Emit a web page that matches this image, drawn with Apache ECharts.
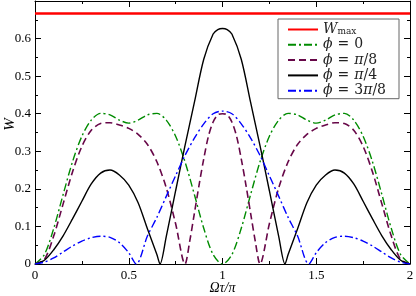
<!DOCTYPE html>
<html><head><meta charset="utf-8">
<script src="https://cdn.jsdelivr.net/npm/echarts@6/dist/echarts.min.js"></script>
<style>html,body{margin:0;padding:0;background:#fff}#c{width:416px;height:296px}</style>
</head><body><div id="c"></div>
<script>
// Data
const seriesNames = ['Wmax', 'phi0', 'phi8', 'phi4', 'phi38'];
const xTickLabels = ['0', '0.5', '1', '1.5', '2'];
const yTickLabels = ['0', '0.1', '0.2', '0.3', '0.4', '0.5', '0.6'];

const xWmax = [0, 2];
const yWmax = [0.6667, 0.6667];

const xPhi0 = [0,0.05,0.1,0.15,0.2,0.25,0.3,0.35,0.4,0.45,0.5,0.55,0.6,0.65,0.7,0.75,0.8,0.85,0.9,0.95,1.0,
  1.05,1.1,1.15,1.2,1.25,1.3,1.35,1.4,1.45,1.5,1.55,1.6,1.65,1.7,1.75,1.8,1.85,1.9,1.95,2.0];
const yPhi0 = [0,0.025,0.095,0.185,0.272,0.34,0.383,0.401,0.397,0.383,0.375,0.383,0.397,0.401,0.383,0.34,0.272,0.185,0.095,0.025,0,
  0.025,0.095,0.185,0.272,0.34,0.383,0.401,0.397,0.383,0.375,0.383,0.397,0.401,0.383,0.34,0.272,0.185,0.095,0.025,0];

const xPhi8 = [0,0.05,0.1,0.15,0.2,0.25,0.3,0.35,0.4,0.45,0.5,0.55,0.6,0.65,0.7,0.75,0.8,0.825,0.85,0.875,0.9,0.925,0.95,0.975,1.0,
  1.025,1.05,1.075,1.1,1.125,1.15,1.175,1.2,1.25,1.3,1.35,1.4,1.45,1.5,1.55,1.6,1.65,1.7,1.75,1.8,1.85,1.9,1.95,2.0];
const yPhi8 = [0,0.012,0.075,0.16,0.245,0.313,0.356,0.374,0.376,0.37,0.361,0.345,0.318,0.272,0.203,0.107,0,0.06,0.135,0.21,0.28,0.34,0.378,0.397,0.40,
  0.397,0.378,0.34,0.28,0.21,0.135,0.06,0,0.107,0.203,0.272,0.318,0.345,0.361,0.37,0.376,0.374,0.356,0.313,0.245,0.16,0.075,0.012,0];

const xPhi4 = [0,0.05,0.1,0.15,0.2,0.25,0.3,0.35,0.4,0.45,0.5,0.55,0.6,0.65,0.6667,0.7,0.75,0.8,0.85,0.9,0.95,0.975,1.0,
  1.025,1.05,1.1,1.15,1.2,1.25,1.3,1.3333,1.35,1.4,1.45,1.5,1.55,1.6,1.65,1.7,1.75,1.8,1.85,1.9,1.95,2.0];
const yPhi4 = [0,0.01,0.038,0.075,0.12,0.167,0.213,0.242,0.25,0.237,0.21,0.163,0.093,0.025,0,0.073,0.195,0.315,0.43,0.545,0.612,0.624,0.627,
  0.624,0.612,0.545,0.43,0.315,0.195,0.073,0,0.025,0.093,0.163,0.21,0.237,0.25,0.242,0.213,0.167,0.12,0.075,0.038,0.01,0];

const xPhi38 = [0,0.05,0.1,0.15,0.2,0.25,0.3,0.35,0.4,0.45,0.5,0.54,0.6,0.65,0.7,0.75,0.8,0.85,0.9,0.95,1.0,
  1.05,1.1,1.15,1.2,1.25,1.3,1.35,1.4,1.46,1.5,1.55,1.6,1.65,1.7,1.75,1.8,1.85,1.9,1.95,2.0];
const yPhi38 = [0,0.005,0.016,0.032,0.048,0.061,0.07,0.074,0.071,0.057,0.03,0,0.075,0.124,0.18,0.235,0.289,0.335,0.373,0.4,0.407,
  0.4,0.373,0.335,0.289,0.235,0.18,0.124,0.075,0,0.03,0.057,0.071,0.074,0.07,0.061,0.048,0.032,0.016,0.005,0];

const legendLabels = {
  Wmax: '{it|W}{sub|max}',
  phi0: '{it|ϕ} = 0',
  phi8: '{it|ϕ} = {it|π}/8',
  phi4: '{it|ϕ} = {it|π}/4',
  phi38: '{it|ϕ} = 3{it|π}/8'
};

function pairs(xs, ys) { return xs.map((x, i) => [x, ys[i]]); }

const SERIF = 'Liberation Serif';
const LSERIF = 'DejaVu Serif';
const chart = echarts.init(document.getElementById('c'), null, {renderer: 'canvas'});

const tickCommon = {
  axisLine: {show: true, onZero: false, lineStyle: {color: '#000', width: 1}},
  axisTick: {show: true, inside: true, length: 6, lineStyle: {color: '#000'}},
  minorTick: {show: true, splitNumber: 2, length: 3, lineStyle: {color: '#000'}},
  splitLine: {show: false},
  minorSplitLine: {show: false}
};

function lineSeries(name, xs, ys, color, width, type) {
  return {
    name: name, type: 'line', showSymbol: false, symbol: 'none',
    smooth: 0.3, data: pairs(xs, ys), xAxisIndex: 0, yAxisIndex: 0,
    lineStyle: {color: color, width: width, type: type},
    itemStyle: {color: color},
    animation: false, z: 3
  };
}

chart.setOption({
  animation: false,
  grid: {left: 35, right: 6, top: 1, bottom: 32, containLabel: false, outerBoundsMode: 'none'},
  xAxis: [
    Object.assign({
      type: 'value', min: 0, max: 2, interval: 0.5, position: 'bottom',
      name: 'Ωτ/π', nameLocation: 'middle', nameGap: 17, nameMoveOverlap: false,
      nameTextStyle: {fontFamily: SERIF, fontStyle: 'italic', fontSize: 14, color: '#000'},
      axisLabel: {fontFamily: SERIF, fontSize: 13, color: '#000', margin: 5,
        formatter: function (v) { return xTickLabels[Math.round(v / 0.5)]; }}
    }, tickCommon),
    Object.assign({
      type: 'value', min: 0, max: 2, interval: 0.5, position: 'top',
      axisLabel: {show: false}
    }, tickCommon)
  ],
  yAxis: [
    Object.assign({
      type: 'value', min: 0, max: 0.7, interval: 0.1, position: 'left',
      name: 'W', nameLocation: 'middle', nameGap: 17, nameRotate: 90, nameMoveOverlap: false,
      nameTextStyle: {fontFamily: SERIF, fontStyle: 'italic', fontSize: 15, color: '#000', padding: [0, 0, 0, 16]},
      axisLabel: {fontFamily: SERIF, fontSize: 13, color: '#000', margin: 4, showMaxLabel: false,
        formatter: function (v) { const i = Math.round(v / 0.1); return yTickLabels[i] || ''; }}
    }, tickCommon),
    Object.assign({
      type: 'value', min: 0, max: 0.7, interval: 0.1, position: 'right',
      axisLabel: {show: false}
    }, tickCommon)
  ],
  legend: {
    orient: 'vertical', left: 278, top: 19,
    data: seriesNames,
    backgroundColor: '#fff', borderColor: '#666', borderWidth: 1, borderRadius: 0,
    padding: [3, 13, 1, 9],
    itemWidth: 30, itemHeight: 13, itemGap: 1.3, itemTextGap: 12,
    itemStyle: {opacity: 0},
    textStyle: {fontFamily: LSERIF, fontSize: 14, color: '#222', lineHeight: 13,
      rich: {
        it: {fontFamily: LSERIF, fontStyle: 'italic', fontSize: 14, color: '#222', lineHeight: 13},
        sp: {fontSize: 14, width: 5, lineHeight: 13},
        sub: {fontFamily: LSERIF, fontSize: 9, color: '#222', verticalAlign: 'bottom', lineHeight: 13, padding: [5, 0, 0, 0]}
      }},
    formatter: function (name) { return legendLabels[name].replace(' = ', '{sp| }={sp| }'); }
  },
  series: [
    lineSeries('Wmax', xWmax, yWmax, '#ff0000', 2.5, 'solid'),
    lineSeries('phi0', xPhi0, yPhi0, '#008b00', 1.4, [8, 3, 2, 3]),
    lineSeries('phi8', xPhi8, yPhi8, '#670748', 1.6, [7, 4]),
    lineSeries('phi4', xPhi4, yPhi4, '#000000', 1.4, 'solid'),
    lineSeries('phi38', xPhi38, yPhi38, '#0000ff', 1.4, [8, 3, 2, 3])
  ]
});
</script></body></html>
